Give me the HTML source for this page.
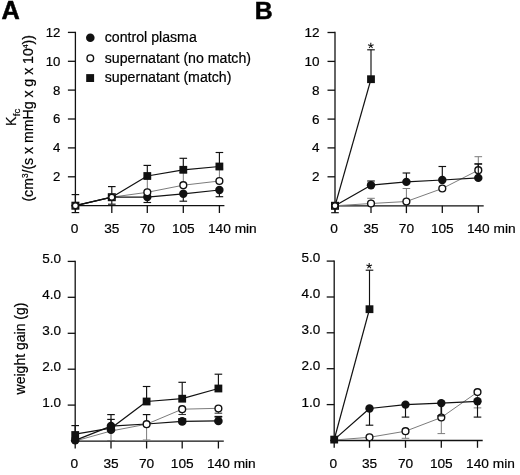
<!DOCTYPE html>
<html><head><meta charset="utf-8"><title>Figure</title>
<style>
html,body{margin:0;padding:0;background:#fff;}
body{width:520px;height:475px;overflow:hidden;font-family:"Liberation Sans",sans-serif;}
svg{display:block;will-change:transform;filter:blur(0.28px)}
svg text{font-family:"Liberation Sans",sans-serif;fill:#000;stroke:#000;stroke-width:0.2px;}
</style></head><body>
<svg width="520" height="475" viewBox="0 0 520 475">
<rect width="520" height="475" fill="#fff"/>
<line x1="75.4" y1="31.8" x2="75.4" y2="213.0" stroke="#111" stroke-width="1.3"/>
<line x1="67.9" y1="32.4" x2="75.4" y2="32.4" stroke="#111" stroke-width="1.3"/>
<text x="60.3" y="36.8" font-size="13.2" text-anchor="end" >12</text>
<line x1="67.9" y1="61.3" x2="75.4" y2="61.3" stroke="#111" stroke-width="1.3"/>
<text x="60.3" y="65.7" font-size="13.2" text-anchor="end" >10</text>
<line x1="67.9" y1="90.1" x2="75.4" y2="90.1" stroke="#111" stroke-width="1.3"/>
<text x="60.3" y="94.5" font-size="13.2" text-anchor="end" >8</text>
<line x1="67.9" y1="119.0" x2="75.4" y2="119.0" stroke="#111" stroke-width="1.3"/>
<text x="60.3" y="123.4" font-size="13.2" text-anchor="end" >6</text>
<line x1="67.9" y1="147.9" x2="75.4" y2="147.9" stroke="#111" stroke-width="1.3"/>
<text x="60.3" y="152.3" font-size="13.2" text-anchor="end" >4</text>
<line x1="67.9" y1="176.8" x2="75.4" y2="176.8" stroke="#111" stroke-width="1.3"/>
<text x="60.3" y="181.2" font-size="13.2" text-anchor="end" >2</text>
<line x1="71.4" y1="205.7" x2="224.4" y2="205.7" stroke="#111" stroke-width="1.3"/>
<line x1="111.8" y1="205.7" x2="111.8" y2="213.0" stroke="#111" stroke-width="1.3"/>
<line x1="147.3" y1="205.7" x2="147.3" y2="213.0" stroke="#111" stroke-width="1.3"/>
<line x1="183.3" y1="205.7" x2="183.3" y2="213.0" stroke="#111" stroke-width="1.3"/>
<line x1="219.4" y1="205.7" x2="219.4" y2="213.0" stroke="#111" stroke-width="1.3"/>
<text x="74.5" y="233.1" font-size="13.7" text-anchor="middle" >0</text>
<text x="111.8" y="233.1" font-size="13.7" text-anchor="middle" >35</text>
<text x="147.3" y="233.1" font-size="13.7" text-anchor="middle" >70</text>
<text x="183.3" y="233.1" font-size="13.7" text-anchor="middle" >105</text>
<text x="208.0" y="233.1" font-size="13.7" text-anchor="start">140 min</text>
<line x1="147.3" y1="192.3" x2="147.3" y2="178.0" stroke="#7c7c7c" stroke-width="1.0"/>
<line x1="143.5" y1="178.0" x2="151.1" y2="178.0" stroke="#7c7c7c" stroke-width="1.0"/>
<line x1="183.3" y1="185.2" x2="183.3" y2="172.5" stroke="#7c7c7c" stroke-width="1.0"/>
<line x1="179.5" y1="172.5" x2="187.1" y2="172.5" stroke="#7c7c7c" stroke-width="1.0"/>
<line x1="219.4" y1="181.0" x2="219.4" y2="169.0" stroke="#7c7c7c" stroke-width="1.0"/>
<line x1="215.6" y1="169.0" x2="223.2" y2="169.0" stroke="#7c7c7c" stroke-width="1.0"/>
<line x1="75.4" y1="205.7" x2="75.4" y2="194.6" stroke="#111" stroke-width="1.15"/>
<line x1="71.6" y1="194.6" x2="79.2" y2="194.6" stroke="#111" stroke-width="1.15"/>
<line x1="75.4" y1="205.7" x2="75.4" y2="212.6" stroke="#111" stroke-width="1.15"/>
<line x1="71.6" y1="212.6" x2="79.2" y2="212.6" stroke="#111" stroke-width="1.15"/>
<line x1="111.8" y1="197.2" x2="111.8" y2="186.6" stroke="#111" stroke-width="1.15"/>
<line x1="108.0" y1="186.6" x2="115.6" y2="186.6" stroke="#111" stroke-width="1.15"/>
<line x1="111.8" y1="197.2" x2="111.8" y2="204.2" stroke="#111" stroke-width="1.15"/>
<line x1="108.0" y1="204.2" x2="115.6" y2="204.2" stroke="#111" stroke-width="1.15"/>
<line x1="147.3" y1="176.0" x2="147.3" y2="165.4" stroke="#111" stroke-width="1.15"/>
<line x1="143.5" y1="165.4" x2="151.1" y2="165.4" stroke="#111" stroke-width="1.15"/>
<line x1="147.3" y1="197.1" x2="147.3" y2="202.5" stroke="#111" stroke-width="1.15"/>
<line x1="143.5" y1="202.5" x2="151.1" y2="202.5" stroke="#111" stroke-width="1.15"/>
<line x1="183.3" y1="169.8" x2="183.3" y2="158.3" stroke="#111" stroke-width="1.15"/>
<line x1="179.5" y1="158.3" x2="187.1" y2="158.3" stroke="#111" stroke-width="1.15"/>
<line x1="183.3" y1="193.8" x2="183.3" y2="201.2" stroke="#111" stroke-width="1.15"/>
<line x1="179.5" y1="201.2" x2="187.1" y2="201.2" stroke="#111" stroke-width="1.15"/>
<line x1="219.4" y1="166.5" x2="219.4" y2="152.5" stroke="#111" stroke-width="1.15"/>
<line x1="215.6" y1="152.5" x2="223.2" y2="152.5" stroke="#111" stroke-width="1.15"/>
<line x1="219.4" y1="190.0" x2="219.4" y2="196.7" stroke="#111" stroke-width="1.15"/>
<line x1="215.6" y1="196.7" x2="223.2" y2="196.7" stroke="#111" stroke-width="1.15"/>
<polyline points="75.4,205.7 111.8,197.2 147.3,192.3 183.3,185.2 219.4,181.0" fill="none" stroke="#7c7c7c" stroke-width="1.0" stroke-linejoin="round"/>
<polyline points="75.4,205.7 111.8,197.2 147.3,197.1 183.3,193.8 219.4,190.0" fill="none" stroke="#111" stroke-width="1.25" stroke-linejoin="round"/>
<polyline points="75.4,205.7 111.8,197.2 147.3,176.0 183.3,169.8 219.4,166.5" fill="none" stroke="#111" stroke-width="1.25" stroke-linejoin="round"/>
<circle cx="147.3" cy="197.1" r="4.2" fill="#111"/>
<circle cx="183.3" cy="193.8" r="4.2" fill="#111"/>
<circle cx="219.4" cy="190.0" r="4.2" fill="#111"/>
<circle cx="147.3" cy="192.3" r="3.4" fill="#fff" stroke="#111" stroke-width="1.4"/>
<circle cx="183.3" cy="185.2" r="3.4" fill="#fff" stroke="#111" stroke-width="1.4"/>
<circle cx="219.4" cy="181.0" r="3.4" fill="#fff" stroke="#111" stroke-width="1.4"/>
<rect x="143.4" y="172.1" width="7.8" height="7.8" fill="#111"/>
<rect x="179.4" y="165.9" width="7.8" height="7.8" fill="#111"/>
<rect x="215.5" y="162.6" width="7.8" height="7.8" fill="#111"/>
<rect x="72.1" y="202.4" width="6.6" height="6.6" fill="#fff" stroke="#111" stroke-width="1.4"/>
<circle cx="75.4" cy="205.7" r="3.0" fill="#fff" stroke="#111" stroke-width="1.4"/>
<rect x="108.5" y="193.9" width="6.6" height="6.6" fill="#fff" stroke="#111" stroke-width="1.4"/>
<circle cx="111.8" cy="197.2" r="3.0" fill="#fff" stroke="#111" stroke-width="1.4"/>
<circle cx="90.3" cy="37.7" r="4.3" fill="#111"/>
<circle cx="90.3" cy="58.2" r="3.3" fill="#fff" stroke="#111" stroke-width="1.4"/>
<rect x="86.2" y="74.1" width="7.9" height="7.9" fill="#111"/>
<text x="104.8" y="42.1" font-size="14.15" text-anchor="start" >control plasma</text>
<text x="104.8" y="62.6" font-size="14.15" text-anchor="start" >supernatant (no match)</text>
<text x="104.8" y="82.3" font-size="14.15" text-anchor="start" >supernatant (match)</text>
<text transform="translate(16.0,126.0) rotate(-90)" font-size="14.2" text-anchor="start">K<tspan font-size="9.6" dy="4.3" dx="0.3">fc</tspan></text>
<text transform="translate(33.0,118.3) rotate(-90)" font-size="14.1" text-anchor="middle">(cm<tspan font-size="8.2" dy="-5.4">3</tspan><tspan dy="5.4">/(s x mmHg x g x 10</tspan><tspan font-size="7.4" dy="-5.4" dx="-0.3">4</tspan><tspan dy="5.4">))</tspan></text>
<line x1="335.0" y1="31.8" x2="335.0" y2="213.1" stroke="#111" stroke-width="1.3"/>
<line x1="327.5" y1="32.5" x2="335.0" y2="32.5" stroke="#111" stroke-width="1.3"/>
<text x="319.6" y="36.9" font-size="13.5" text-anchor="end" >12</text>
<line x1="327.5" y1="61.4" x2="335.0" y2="61.4" stroke="#111" stroke-width="1.3"/>
<text x="319.6" y="65.8" font-size="13.5" text-anchor="end" >10</text>
<line x1="327.5" y1="90.2" x2="335.0" y2="90.2" stroke="#111" stroke-width="1.3"/>
<text x="319.6" y="94.6" font-size="13.5" text-anchor="end" >8</text>
<line x1="327.5" y1="119.1" x2="335.0" y2="119.1" stroke="#111" stroke-width="1.3"/>
<text x="319.6" y="123.5" font-size="13.5" text-anchor="end" >6</text>
<line x1="327.5" y1="147.9" x2="335.0" y2="147.9" stroke="#111" stroke-width="1.3"/>
<text x="319.6" y="152.3" font-size="13.5" text-anchor="end" >4</text>
<line x1="327.5" y1="176.8" x2="335.0" y2="176.8" stroke="#111" stroke-width="1.3"/>
<text x="319.6" y="181.2" font-size="13.5" text-anchor="end" >2</text>
<line x1="331.0" y1="205.8" x2="483.7" y2="205.8" stroke="#111" stroke-width="1.3"/>
<line x1="371.0" y1="205.8" x2="371.0" y2="213.1" stroke="#111" stroke-width="1.3"/>
<line x1="406.4" y1="205.8" x2="406.4" y2="213.1" stroke="#111" stroke-width="1.3"/>
<line x1="442.3" y1="205.8" x2="442.3" y2="213.1" stroke="#111" stroke-width="1.3"/>
<line x1="478.3" y1="205.8" x2="478.3" y2="213.1" stroke="#111" stroke-width="1.3"/>
<text x="334.1" y="233.1" font-size="13.7" text-anchor="middle" >0</text>
<text x="371.0" y="233.1" font-size="13.7" text-anchor="middle" >35</text>
<text x="406.4" y="233.1" font-size="13.7" text-anchor="middle" >70</text>
<text x="442.3" y="233.1" font-size="13.7" text-anchor="middle" >105</text>
<text x="466.9" y="233.1" font-size="13.7" text-anchor="start">140 min</text>
<line x1="371.0" y1="203.5" x2="371.0" y2="198.3" stroke="#7c7c7c" stroke-width="1.0"/>
<line x1="367.2" y1="198.3" x2="374.8" y2="198.3" stroke="#7c7c7c" stroke-width="1.0"/>
<line x1="406.4" y1="201.5" x2="406.4" y2="188.5" stroke="#7c7c7c" stroke-width="1.0"/>
<line x1="402.6" y1="188.5" x2="410.2" y2="188.5" stroke="#7c7c7c" stroke-width="1.0"/>
<line x1="478.3" y1="169.8" x2="478.3" y2="156.7" stroke="#7c7c7c" stroke-width="1.0"/>
<line x1="474.5" y1="156.7" x2="482.1" y2="156.7" stroke="#7c7c7c" stroke-width="1.0"/>
<line x1="335.0" y1="205.8" x2="335.0" y2="212.7" stroke="#111" stroke-width="1.15"/>
<line x1="331.2" y1="212.7" x2="338.8" y2="212.7" stroke="#111" stroke-width="1.15"/>
<line x1="371.0" y1="79.2" x2="371.0" y2="49.8" stroke="#111" stroke-width="1.15"/>
<line x1="367.2" y1="49.8" x2="374.8" y2="49.8" stroke="#111" stroke-width="1.15"/>
<line x1="371.0" y1="185.2" x2="371.0" y2="181.0" stroke="#111" stroke-width="1.15"/>
<line x1="367.2" y1="181.0" x2="374.8" y2="181.0" stroke="#111" stroke-width="1.15"/>
<line x1="406.4" y1="181.9" x2="406.4" y2="173.0" stroke="#111" stroke-width="1.15"/>
<line x1="402.6" y1="173.0" x2="410.2" y2="173.0" stroke="#111" stroke-width="1.15"/>
<line x1="442.3" y1="180.0" x2="442.3" y2="166.5" stroke="#111" stroke-width="1.15"/>
<line x1="438.5" y1="166.5" x2="446.1" y2="166.5" stroke="#111" stroke-width="1.15"/>
<line x1="478.3" y1="177.9" x2="478.3" y2="164.0" stroke="#111" stroke-width="1.15"/>
<line x1="474.5" y1="164.0" x2="482.1" y2="164.0" stroke="#111" stroke-width="1.15"/>
<polyline points="335.0,205.8 371.0,203.5 406.4,201.5 442.3,188.5 478.3,170.2" fill="none" stroke="#7c7c7c" stroke-width="1.0" stroke-linejoin="round"/>
<polyline points="335.0,205.8 371.0,185.2 406.4,181.9 442.3,180.0 478.3,177.9" fill="none" stroke="#111" stroke-width="1.25" stroke-linejoin="round"/>
<polyline points="335.0,205.8 371.0,79.2" fill="none" stroke="#111" stroke-width="1.25" stroke-linejoin="round"/>
<circle cx="371.0" cy="185.2" r="4.2" fill="#111"/>
<circle cx="406.4" cy="181.9" r="4.2" fill="#111"/>
<circle cx="442.3" cy="180.0" r="4.2" fill="#111"/>
<circle cx="478.3" cy="177.9" r="4.2" fill="#111"/>
<circle cx="371.0" cy="203.5" r="3.4" fill="#fff" stroke="#111" stroke-width="1.4"/>
<circle cx="406.4" cy="201.5" r="3.4" fill="#fff" stroke="#111" stroke-width="1.4"/>
<circle cx="442.3" cy="188.5" r="3.4" fill="#fff" stroke="#111" stroke-width="1.4"/>
<circle cx="478.3" cy="170.2" r="3.4" fill="#fff" stroke="#111" stroke-width="1.4"/>
<rect x="367.1" y="75.3" width="7.8" height="7.8" fill="#111"/>
<line x1="478.3" y1="176.0" x2="478.3" y2="163.9" stroke="#111" stroke-width="1.1"/>
<line x1="474.5" y1="163.9" x2="482.1" y2="163.9" stroke="#111" stroke-width="1.1"/>
<rect x="331.7" y="202.5" width="6.6" height="6.6" fill="#fff" stroke="#111" stroke-width="1.4"/>
<circle cx="335.0" cy="205.8" r="3.0" fill="#fff" stroke="#111" stroke-width="1.4"/>
<line x1="370.8" y1="45.7" x2="370.8" y2="42.8" stroke="#111" stroke-width="1.05"/>
<line x1="370.8" y1="45.7" x2="373.6" y2="44.8" stroke="#111" stroke-width="1.05"/>
<line x1="370.8" y1="45.7" x2="372.5" y2="48.0" stroke="#111" stroke-width="1.05"/>
<line x1="370.8" y1="45.7" x2="369.1" y2="48.0" stroke="#111" stroke-width="1.05"/>
<line x1="370.8" y1="45.7" x2="368.0" y2="44.8" stroke="#111" stroke-width="1.05"/>
<line x1="75.2" y1="260.8" x2="75.2" y2="448.5" stroke="#111" stroke-width="1.3"/>
<line x1="67.7" y1="261.4" x2="75.2" y2="261.4" stroke="#111" stroke-width="1.3"/>
<text x="61.0" y="263.0" font-size="13.5" text-anchor="end" >5.0</text>
<line x1="67.7" y1="297.3" x2="75.2" y2="297.3" stroke="#111" stroke-width="1.3"/>
<text x="61.0" y="298.9" font-size="13.5" text-anchor="end" >4.0</text>
<line x1="67.7" y1="333.3" x2="75.2" y2="333.3" stroke="#111" stroke-width="1.3"/>
<text x="61.0" y="334.9" font-size="13.5" text-anchor="end" >3.0</text>
<line x1="67.7" y1="369.2" x2="75.2" y2="369.2" stroke="#111" stroke-width="1.3"/>
<text x="61.0" y="370.8" font-size="13.5" text-anchor="end" >2.0</text>
<line x1="67.7" y1="405.1" x2="75.2" y2="405.1" stroke="#111" stroke-width="1.3"/>
<text x="61.0" y="406.7" font-size="13.5" text-anchor="end" >1.0</text>
<line x1="71.2" y1="441.2" x2="223.8" y2="441.2" stroke="#111" stroke-width="1.3"/>
<line x1="111.0" y1="441.2" x2="111.0" y2="448.5" stroke="#111" stroke-width="1.3"/>
<line x1="146.6" y1="441.2" x2="146.6" y2="448.5" stroke="#111" stroke-width="1.3"/>
<line x1="182.2" y1="441.2" x2="182.2" y2="448.5" stroke="#111" stroke-width="1.3"/>
<line x1="218.4" y1="441.2" x2="218.4" y2="448.5" stroke="#111" stroke-width="1.3"/>
<text x="74.3" y="467.6" font-size="13.7" text-anchor="middle" >0</text>
<text x="111.0" y="467.6" font-size="13.7" text-anchor="middle" >35</text>
<text x="146.6" y="467.6" font-size="13.7" text-anchor="middle" >70</text>
<text x="182.2" y="467.6" font-size="13.7" text-anchor="middle" >105</text>
<text x="207.0" y="467.6" font-size="13.7" text-anchor="start">140 min</text>
<line x1="111.0" y1="431.0" x2="111.0" y2="440.6" stroke="#666" stroke-width="0.9"/>
<line x1="107.2" y1="440.6" x2="114.8" y2="440.6" stroke="#666" stroke-width="0.9"/>
<line x1="146.6" y1="424.0" x2="146.6" y2="440.0" stroke="#7c7c7c" stroke-width="1.0"/>
<line x1="142.8" y1="440.0" x2="150.4" y2="440.0" stroke="#7c7c7c" stroke-width="1.0"/>
<line x1="75.2" y1="435.2" x2="75.2" y2="425.6" stroke="#111" stroke-width="1.15"/>
<line x1="71.4" y1="425.6" x2="79.0" y2="425.6" stroke="#111" stroke-width="1.15"/>
<line x1="111.0" y1="426.2" x2="111.0" y2="414.6" stroke="#111" stroke-width="1.15"/>
<line x1="107.2" y1="414.6" x2="114.8" y2="414.6" stroke="#111" stroke-width="1.15"/>
<line x1="111.0" y1="429.8" x2="111.0" y2="419.4" stroke="#111" stroke-width="1.15"/>
<line x1="107.2" y1="419.4" x2="114.8" y2="419.4" stroke="#111" stroke-width="1.15"/>
<line x1="146.6" y1="401.5" x2="146.6" y2="386.5" stroke="#111" stroke-width="1.15"/>
<line x1="142.8" y1="386.5" x2="150.4" y2="386.5" stroke="#111" stroke-width="1.15"/>
<line x1="146.6" y1="424.0" x2="146.6" y2="414.6" stroke="#111" stroke-width="1.15"/>
<line x1="142.8" y1="414.6" x2="150.4" y2="414.6" stroke="#111" stroke-width="1.15"/>
<line x1="182.2" y1="398.7" x2="182.2" y2="382.3" stroke="#111" stroke-width="1.15"/>
<line x1="178.4" y1="382.3" x2="186.0" y2="382.3" stroke="#111" stroke-width="1.15"/>
<line x1="182.2" y1="421.3" x2="182.2" y2="418.8" stroke="#111" stroke-width="1.15"/>
<line x1="178.4" y1="418.8" x2="186.0" y2="418.8" stroke="#111" stroke-width="1.15"/>
<line x1="218.4" y1="388.5" x2="218.4" y2="374.2" stroke="#111" stroke-width="1.15"/>
<line x1="214.6" y1="374.2" x2="222.2" y2="374.2" stroke="#111" stroke-width="1.15"/>
<line x1="218.4" y1="420.8" x2="218.4" y2="417.0" stroke="#111" stroke-width="1.15"/>
<line x1="214.6" y1="417.0" x2="222.2" y2="417.0" stroke="#111" stroke-width="1.15"/>
<polyline points="75.2,441.0 111.0,431.0 146.6,424.2 182.2,409.2 218.4,408.3" fill="none" stroke="#7c7c7c" stroke-width="1.0" stroke-linejoin="round"/>
<polyline points="75.2,440.4 111.0,426.2 146.6,424.0 182.2,421.3 218.4,420.8" fill="none" stroke="#111" stroke-width="1.25" stroke-linejoin="round"/>
<polyline points="75.2,434.2 111.0,428.2 146.6,401.5 182.2,398.7 218.4,388.5" fill="none" stroke="#111" stroke-width="1.25" stroke-linejoin="round"/>
<rect x="71.3" y="431.1" width="7.8" height="7.8" fill="#111"/>
<circle cx="111.0" cy="429.7" r="4.3" fill="#111"/>
<circle cx="75.2" cy="440.2" r="4.3" fill="#111"/>
<circle cx="111.0" cy="426.1" r="4.3" fill="#111"/>
<circle cx="182.2" cy="421.4" r="4.3" fill="#111"/>
<circle cx="218.4" cy="421.0" r="4.3" fill="#111"/>
<rect x="142.7" y="397.6" width="7.8" height="7.8" fill="#111"/>
<rect x="178.3" y="394.8" width="7.8" height="7.8" fill="#111"/>
<rect x="214.5" y="384.6" width="7.8" height="7.8" fill="#111"/>
<line x1="182.2" y1="409.2" x2="182.2" y2="414.5" stroke="#333" stroke-width="1.1"/>
<line x1="178.4" y1="414.5" x2="186.0" y2="414.5" stroke="#333" stroke-width="1.1"/>
<line x1="218.4" y1="408.5" x2="218.4" y2="413.2" stroke="#333" stroke-width="1.1"/>
<line x1="214.6" y1="413.2" x2="222.2" y2="413.2" stroke="#333" stroke-width="1.1"/>
<line x1="182.2" y1="421.5" x2="182.2" y2="419.2" stroke="#111" stroke-width="1.3"/>
<line x1="178.1" y1="419.2" x2="186.3" y2="419.2" stroke="#111" stroke-width="1.3"/>
<line x1="218.4" y1="421.2" x2="218.4" y2="416.5" stroke="#111" stroke-width="1.3"/>
<line x1="214.6" y1="416.5" x2="222.2" y2="416.5" stroke="#111" stroke-width="1.3"/>
<circle cx="146.6" cy="424.2" r="3.4" fill="#fff" stroke="#111" stroke-width="1.4"/>
<circle cx="182.2" cy="409.2" r="3.4" fill="#fff" stroke="#111" stroke-width="1.4"/>
<circle cx="218.4" cy="408.5" r="3.4" fill="#fff" stroke="#111" stroke-width="1.4"/>
<text transform="translate(25.4,348.5) rotate(-90)" font-size="14" text-anchor="middle">weight gain (g)</text>
<line x1="334.2" y1="260.5" x2="334.2" y2="447.8" stroke="#111" stroke-width="1.3"/>
<line x1="326.7" y1="261.1" x2="334.2" y2="261.1" stroke="#111" stroke-width="1.3"/>
<text x="320.4" y="262.3" font-size="13.5" text-anchor="end" >5.0</text>
<line x1="326.7" y1="297.0" x2="334.2" y2="297.0" stroke="#111" stroke-width="1.3"/>
<text x="320.4" y="298.4" font-size="13.5" text-anchor="end" >4.0</text>
<line x1="326.7" y1="332.8" x2="334.2" y2="332.8" stroke="#111" stroke-width="1.3"/>
<text x="320.4" y="334.4" font-size="13.5" text-anchor="end" >3.0</text>
<line x1="326.7" y1="368.7" x2="334.2" y2="368.7" stroke="#111" stroke-width="1.3"/>
<text x="320.4" y="370.4" font-size="13.5" text-anchor="end" >2.0</text>
<line x1="326.7" y1="404.6" x2="334.2" y2="404.6" stroke="#111" stroke-width="1.3"/>
<text x="320.4" y="406.5" font-size="13.5" text-anchor="end" >1.0</text>
<line x1="330.2" y1="440.5" x2="482.7" y2="440.5" stroke="#111" stroke-width="1.3"/>
<line x1="369.5" y1="440.5" x2="369.5" y2="447.8" stroke="#111" stroke-width="1.3"/>
<line x1="405.5" y1="440.5" x2="405.5" y2="447.8" stroke="#111" stroke-width="1.3"/>
<line x1="441.3" y1="440.5" x2="441.3" y2="447.8" stroke="#111" stroke-width="1.3"/>
<line x1="477.5" y1="440.5" x2="477.5" y2="447.8" stroke="#111" stroke-width="1.3"/>
<text x="333.3" y="467.6" font-size="13.7" text-anchor="middle" >0</text>
<text x="369.5" y="467.6" font-size="13.7" text-anchor="middle" >35</text>
<text x="405.5" y="467.6" font-size="13.7" text-anchor="middle" >70</text>
<text x="441.3" y="467.6" font-size="13.7" text-anchor="middle" >105</text>
<text x="466.1" y="467.6" font-size="13.7" text-anchor="start">140 min</text>
<line x1="405.5" y1="431.2" x2="405.5" y2="438.3" stroke="#7c7c7c" stroke-width="1.0"/>
<line x1="401.7" y1="438.3" x2="409.3" y2="438.3" stroke="#7c7c7c" stroke-width="1.0"/>
<line x1="441.3" y1="417.5" x2="441.3" y2="433.6" stroke="#7c7c7c" stroke-width="1.0"/>
<line x1="437.5" y1="433.6" x2="445.1" y2="433.6" stroke="#7c7c7c" stroke-width="1.0"/>
<line x1="477.5" y1="392.1" x2="477.5" y2="407.9" stroke="#7c7c7c" stroke-width="1.0"/>
<line x1="473.7" y1="407.9" x2="481.3" y2="407.9" stroke="#7c7c7c" stroke-width="1.0"/>
<line x1="369.5" y1="309.2" x2="369.5" y2="270.2" stroke="#111" stroke-width="1.15"/>
<line x1="365.7" y1="270.2" x2="373.3" y2="270.2" stroke="#111" stroke-width="1.15"/>
<line x1="369.5" y1="408.5" x2="369.5" y2="425.2" stroke="#111" stroke-width="1.15"/>
<line x1="365.7" y1="425.2" x2="373.3" y2="425.2" stroke="#111" stroke-width="1.15"/>
<line x1="405.5" y1="404.6" x2="405.5" y2="417.1" stroke="#111" stroke-width="1.15"/>
<line x1="401.7" y1="417.1" x2="409.3" y2="417.1" stroke="#111" stroke-width="1.15"/>
<line x1="441.3" y1="403.1" x2="441.3" y2="415.8" stroke="#111" stroke-width="1.7"/>
<line x1="437.5" y1="415.8" x2="445.1" y2="415.8" stroke="#111" stroke-width="1.7"/>
<line x1="477.5" y1="401.3" x2="477.5" y2="417.1" stroke="#111" stroke-width="1.15"/>
<line x1="473.7" y1="417.1" x2="481.3" y2="417.1" stroke="#111" stroke-width="1.15"/>
<polyline points="334.2,440.0 369.5,437.3 405.5,431.2 441.3,417.5 477.5,392.1" fill="none" stroke="#7c7c7c" stroke-width="1.0" stroke-linejoin="round"/>
<polyline points="334.2,439.6 369.5,408.5 405.5,404.6 441.3,403.1 477.5,401.3" fill="none" stroke="#111" stroke-width="1.25" stroke-linejoin="round"/>
<polyline points="334.2,439.6 369.5,309.2" fill="none" stroke="#111" stroke-width="1.25" stroke-linejoin="round"/>
<circle cx="369.5" cy="408.5" r="4.2" fill="#111"/>
<circle cx="405.5" cy="404.6" r="4.2" fill="#111"/>
<circle cx="441.3" cy="403.1" r="4.2" fill="#111"/>
<circle cx="477.5" cy="401.3" r="4.2" fill="#111"/>
<circle cx="369.5" cy="437.3" r="3.4" fill="#fff" stroke="#111" stroke-width="1.4"/>
<circle cx="405.5" cy="431.2" r="3.4" fill="#fff" stroke="#111" stroke-width="1.4"/>
<circle cx="441.3" cy="417.5" r="3.4" fill="#fff" stroke="#111" stroke-width="1.4"/>
<circle cx="477.5" cy="392.1" r="3.4" fill="#fff" stroke="#111" stroke-width="1.4"/>
<rect x="365.6" y="305.3" width="7.8" height="7.8" fill="#111"/>
<rect x="330.3" y="435.7" width="7.8" height="7.8" fill="#111"/>
<line x1="438.0" y1="415.8" x2="444.6" y2="415.8" stroke="#111" stroke-width="1.3"/>
<line x1="369.2" y1="265.9" x2="369.2" y2="263.0" stroke="#111" stroke-width="1.05"/>
<line x1="369.2" y1="265.9" x2="372.0" y2="265.0" stroke="#111" stroke-width="1.05"/>
<line x1="369.2" y1="265.9" x2="370.9" y2="268.2" stroke="#111" stroke-width="1.05"/>
<line x1="369.2" y1="265.9" x2="367.5" y2="268.2" stroke="#111" stroke-width="1.05"/>
<line x1="369.2" y1="265.9" x2="366.4" y2="265.0" stroke="#111" stroke-width="1.05"/>
<text x="1.6" y="19.3" font-size="25.3" font-weight="bold" style="stroke-width:0.5px" text-anchor="start">A</text>
<text x="254.8" y="19.3" font-size="24.8" font-weight="bold" style="stroke-width:0.5px" text-anchor="start">B</text>
</svg>
</body></html>
